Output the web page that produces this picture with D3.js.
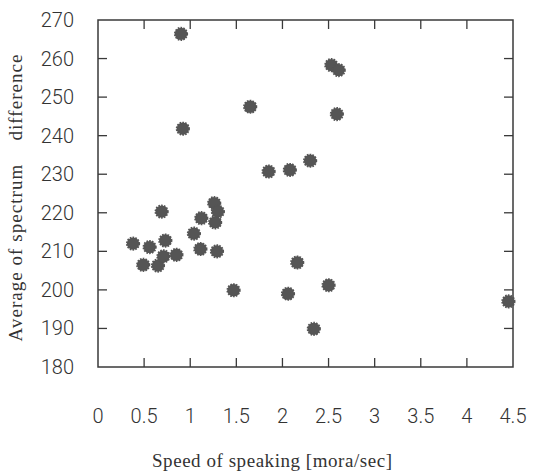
<!DOCTYPE html>
<html>
<head>
<meta charset="utf-8">
<script src="https://cdn.jsdelivr.net/npm/d3@7"></script>
<style>
  body { margin: 0; background: #fff; }
  svg { display: block; }
</style>
</head>
<body>
<svg class="svg"></svg>
<script>
const svgWidth = 533;
const svgHeight = 473;

// speed of speaking (mora/sec) and average spectrum difference
const speed = [0.90, 0.92, 1.65, 2.53, 2.61, 2.59, 1.85, 2.08, 2.30, 1.47,
    2.06, 2.16, 2.34, 2.50, 4.45, 0.69, 0.38, 0.56, 0.73, 0.49,
    0.65, 0.71, 0.85, 1.04, 1.12, 1.11, 1.29, 1.26, 1.30, 1.27];
const spectrumDiff = [266.4, 241.8, 247.5, 258.3, 257.0, 245.6, 230.7, 231.1, 233.5, 199.9,
    199.0, 207.1, 189.9, 201.2, 197.0, 220.3, 212.0, 211.1, 212.8, 206.5,
    206.3, 208.7, 209.1, 214.6, 218.6, 210.6, 210.0, 222.5, 220.3, 217.5];

const xTicks = [0, 0.5, 1, 1.5, 2, 2.5, 3, 3.5, 4, 4.5];
const yTicks = [180, 190, 200, 210, 220, 230, 240, 250, 260, 270];

const svg = d3.select(".svg")
    .attr("width", svgWidth)
    .attr("height", svgHeight);

const plotLeft = 98, plotRight = 513, plotTop = 20, plotBottom = 367;

const xScale = d3.scaleLinear().domain([0, 4.5]).range([plotLeft, plotRight]);
const yScale = d3.scaleLinear().domain([180, 270]).range([plotBottom, plotTop]);

const tickLen = 9;
const frameColor = "#3a3a3a";

// inner ticks (both sides), skipping the ones that sit on the frame
const innerX = xTicks.filter(d => d > 0 && d < 4.5);
const innerY = yTicks.filter(d => d > 180 && d < 270);

const ticks = svg.append("g")
    .attr("stroke", frameColor)
    .attr("stroke-width", 1.3);

ticks.selectAll(".xb").data(innerX).enter().append("line")
    .attr("x1", d => xScale(d)).attr("x2", d => xScale(d))
    .attr("y1", plotBottom).attr("y2", plotBottom - tickLen);
ticks.selectAll(".xt").data(innerX).enter().append("line")
    .attr("x1", d => xScale(d)).attr("x2", d => xScale(d))
    .attr("y1", plotTop).attr("y2", plotTop + tickLen);
ticks.selectAll(".yl").data(innerY).enter().append("line")
    .attr("y1", d => yScale(d)).attr("y2", d => yScale(d))
    .attr("x1", plotLeft).attr("x2", plotLeft + tickLen);
ticks.selectAll(".yr").data(innerY).enter().append("line")
    .attr("y1", d => yScale(d)).attr("y2", d => yScale(d))
    .attr("x1", plotRight).attr("x2", plotRight - tickLen);

// frame
svg.append("rect")
    .attr("x", plotLeft).attr("y", plotTop)
    .attr("width", plotRight - plotLeft).attr("height", plotBottom - plotTop)
    .attr("fill", "none")
    .attr("stroke", frameColor)
    .attr("stroke-width", 1.5);

// tick labels
svg.selectAll(".xlab").data(xTicks).enter().append("text")
    .attr("x", d => xScale(d))
    .attr("y", 416)
    .attr("text-anchor", "middle")
    .attr("dominant-baseline", "central")
    .attr("font-family", "Roboto, 'DejaVu Sans', sans-serif")
    .attr("font-weight", 300)
    .attr("font-size", 20)
    .attr("fill", "#333")
    .text(d => d3.format("")(d));

svg.selectAll(".ylab").data(yTicks).enter().append("text")
    .attr("x", 74)
    .attr("y", d => yScale(d))
    .attr("text-anchor", "end")
    .attr("dominant-baseline", "central")
    .attr("font-family", "Roboto, 'DejaVu Sans', sans-serif")
    .attr("font-weight", 300)
    .attr("font-size", 20)
    .attr("fill", "#333")
    .text(d => d);

// axis titles
svg.append("text")
    .attr("x", 272)
    .attr("y", 467)
    .attr("text-anchor", "middle")
    .attr("font-family", "'Liberation Serif', serif")
    .attr("font-size", 19)
    .attr("textLength", 240)
    .attr("lengthAdjust", "spacing")
    .attr("fill", "#333")
    .text("Speed of speaking [mora/sec]");

svg.append("text")
    .attr("transform", "translate(22,198) rotate(-90)")
    .attr("text-anchor", "middle")
    .attr("font-family", "'Liberation Serif', serif")
    .attr("font-size", 19)
    .attr("textLength", 287)
    .attr("lengthAdjust", "spacing")
    .attr("fill", "#333")
    .style("white-space", "pre")
    .text("Average of spectrum    difference");

// points
svg.selectAll(".pt").data(speed).enter().append("circle")
    .attr("cx", d => xScale(d))
    .attr("cy", (d, i) => yScale(spectrumDiff[i]))
    .attr("r", 6.2)
    .attr("fill", "#555")
    .attr("stroke", "#555")
    .attr("stroke-width", 1.8)
    .attr("stroke-dasharray", "1.6,1.2");
</script>
</body>
</html>
